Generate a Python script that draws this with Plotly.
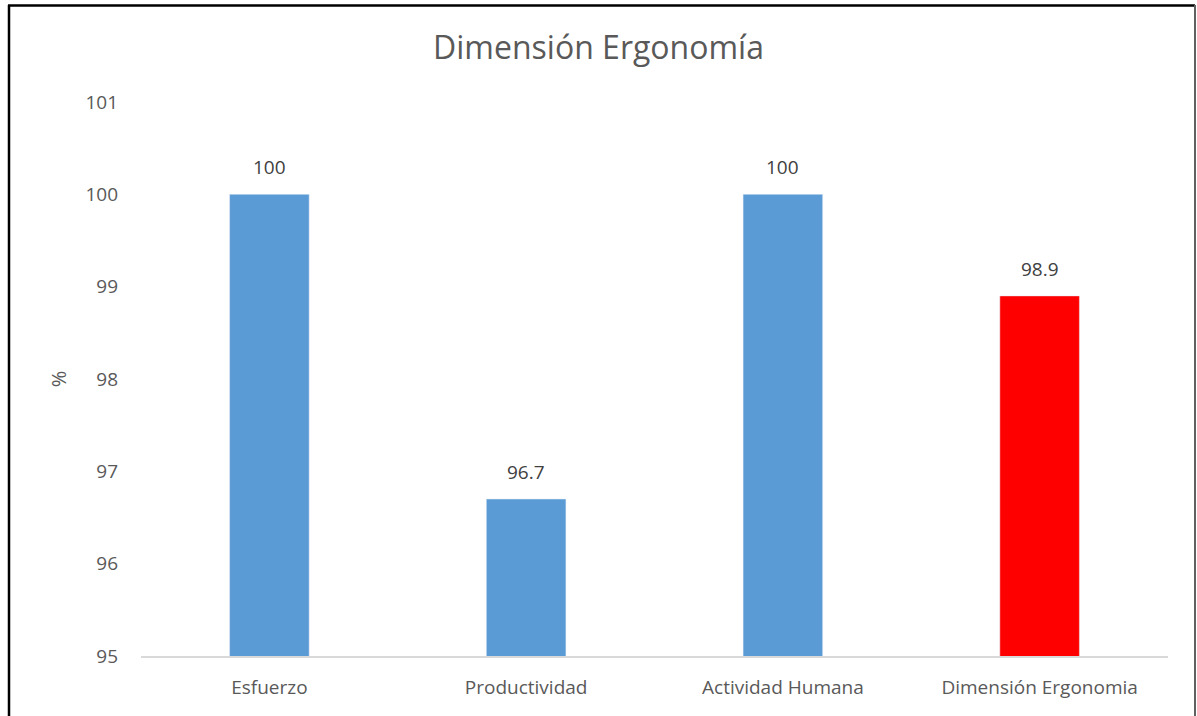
import plotly.graph_objects as go

categories = ["Esfuerzo", "Productividad", "Actividad Humana", "Dimensión Ergonomia"]
values = [100, 96.7, 100, 98.9]
colors = ["#5B9BD5", "#5B9BD5", "#5B9BD5", "#FF0000"]
labels = ["100", "96.7", "100", "98.9"]
y_ticks = [95, 96, 97, 98, 99, 100, 101]

W, H = 1197, 716
ml, mr, mt, mb = 141, 29, 102, 60
pw, ph = W - ml - mr, H - mt - mb

def px(x):
    return (x - ml) / pw

def py(y):
    return (H - mb - y) / ph

fig = go.Figure(go.Bar(
    x=categories, y=values, marker_color=colors,
))

annotations = [
    dict(x=c, y=v, text=t, xref="x", yref="y", showarrow=False,
         yshift=27, yanchor="middle",
         font=dict(size=19, color="#404040", family="Open Sans"))
    for c, v, t in zip(categories, values, labels)
]

fig.update_layout(
    width=W, height=H,
    margin=dict(l=ml, r=mr, t=mt, b=mb),
    paper_bgcolor="white", plot_bgcolor="white",
    bargap=0.69,
    showlegend=False,
    annotations=annotations,
    title=dict(text="Dimensión Ergonomía", x=0.5, xanchor="center",
               y=1 - 48 / H, yanchor="middle",
               font=dict(size=32, color="#595959", family="Open Sans")),
    font=dict(family="Open Sans", color="#595959", size=19),
    xaxis=dict(showline=True, linecolor="#D9D9D9", linewidth=1.5, ticks="",
               ticklabelstandoff=13,
               tickfont=dict(size=19, color="#595959")),
    yaxis=dict(range=[95, 101], tickvals=y_ticks, showgrid=False, zeroline=False,
               showline=False, ticks="", ticklen=0, ticklabelstandoff=22,
               tickfont=dict(size=19, color="#595959"),
               title=dict(text="%", font=dict(size=20, color="#595959"), standoff=13)),
    shapes=[
        dict(type="line", xref="paper", yref="paper", x0=px(9), x1=px(9), y0=py(5), y1=py(730),
             line=dict(color="black", width=2.5)),
        dict(type="line", xref="paper", yref="paper", x0=px(8), x1=px(1195), y0=py(5.5), y1=py(5.5),
             line=dict(color="black", width=2.5)),
        dict(type="line", xref="paper", yref="paper", x0=px(1195), x1=px(1195), y0=py(5), y1=py(730),
             line=dict(color="#606060", width=2)),
    ],
)

fig.write_html("out.html")
